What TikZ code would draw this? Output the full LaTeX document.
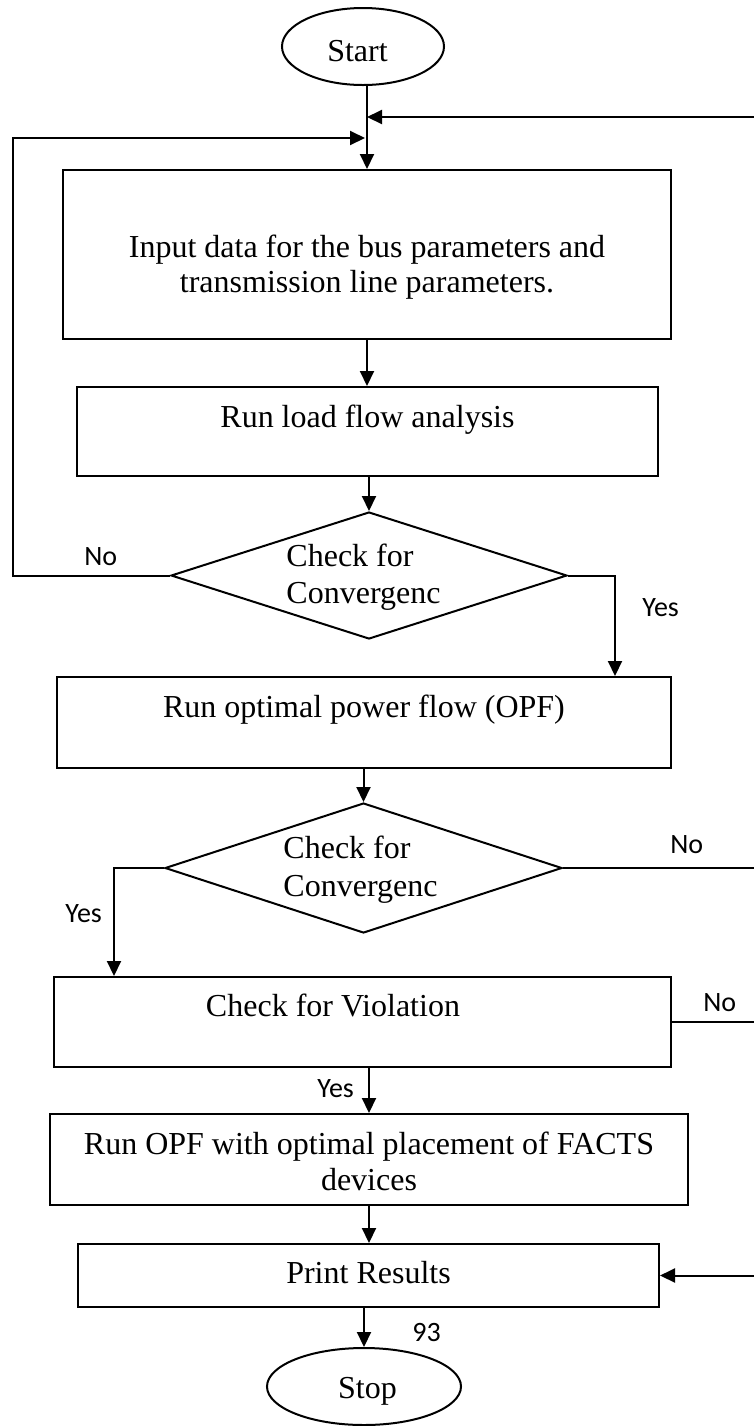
\documentclass[tikz,border=0pt]{standalone}
\usepackage{fontspec}
\setmainfont{Liberation Serif}
\newfontfamily\labfont{Carlito}
\usetikzlibrary{shapes.geometric,arrows.meta}
\newcommand\bx[3]{\raisebox{#1}[0pt][0pt]{\makebox[0pt]{\hspace{#2}#3}}}
\newcommand\twoc[3]{\fontsize{16}{#1}\selectfont\begin{tabular}[t]{@{}c@{}}#2\\#3\end{tabular}}
\newcommand\twol[3]{\fontsize{16}{#1}\selectfont\begin{tabular}[t]{@{}l@{}}#2\\#3\end{tabular}}
\begin{document}
\begin{tikzpicture}[x=0.5pt,y=-0.5pt,
  every node/.style={font=\fontsize{16}{18}\selectfont, inner sep=0pt},
  stepbox/.style={draw, line width=1pt, rectangle},
  term/.style={draw, line width=1pt, ellipse},
  decide/.style={draw, line width=1pt, diamond},
  lab/.style={font=\labfont\fontsize{14}{16}\selectfont, anchor=base west},
  arr/.style={line width=1pt, -{Triangle[length=7.5pt,width=7pt]}},
  ln/.style={line width=1pt}]
\useasboundingbox (0,0) rectangle (754,1426);

\node[term, minimum width=81pt, minimum height=38.5pt] (start) at (363,46.5) {\bx{-7.25pt}{-5.5pt}{Start}};
\node[stepbox, minimum width=304pt, minimum height=84.5pt] (input) at (367,254.5)
  {\bx{-1.25pt}{0pt}{\twoc{17.5}{Input data for the bus parameters and}{transmission line parameters.}}};
\node[stepbox, minimum width=290.5pt, minimum height=44.5pt] (lf) at (367.5,431.5) {\bx{2.25pt}{0pt}{Run load flow analysis}};
\node[decide, minimum width=198pt, minimum height=63.5pt] (d1) at (369,575.5)
  {\bx{4.75pt}{-5.5pt}{\twol{18.5}{Check for}{Convergenc}}};
\node[stepbox, minimum width=307pt, minimum height=45.5pt] (opf) at (364,722.5) {\bx{2.75pt}{0pt}{Run optimal power flow (OPF)}};
\node[decide, minimum width=198.5pt, minimum height=65pt] (d2) at (363.5,868)
  {\bx{5pt}{-3pt}{\twol{19}{Check for}{Convergenc}}};
\node[stepbox, minimum width=308.5pt, minimum height=45pt] (viol) at (362.5,1022) {\bx{3pt}{-29.5pt}{Check for Violation}};
\node[stepbox, minimum width=319pt, minimum height=45.5pt] (facts) at (369,1159.5)
  {\bx{2.75pt}{0pt}{\twoc{18}{Run OPF with optimal placement of FACTS}{devices}}};
\node[stepbox, minimum width=290.5pt, minimum height=31.5pt] (print) at (368.5,1275.5) {\bx{-3.75pt}{0pt}{Print Results}};
\node[term, minimum width=97pt, minimum height=38.5pt] (stop) at (364,1386.5) {\bx{-5.75pt}{3.5pt}{Stop}};

% free ends and bends
\coordinate (rtop) at (754,117);
\coordinate (redge) at (754,0);
\coordinate (ltop) at (13,138);
\coordinate (lbot) at (13,575.5);
\coordinate (yes1) at (615,600);
\coordinate (yes2) at (114,900);

% main flow
\draw[arr] (start.south -| input.north) -- (input.north);
\draw[arr] (rtop) -- (rtop -| input.north);
\draw[arr, shorten >=1pt] (d1.west) -- (lbot) -- (ltop) -- (ltop -| input.north);
\draw[arr] (input.south) -- (input.south |- lf.north);
\draw[arr] (d1.north |- lf.south) -- (d1.north);
\draw[arr] (d1.east) -| (yes1 |- opf.north);
\draw[arr] (d2.north |- opf.south) -- (d2.north);
\draw[ln] (d2.east) -- (d2.east -| redge);
\draw[arr] (d2.west) -| (yes2 |- viol.north);
\draw[ln] (viol.east) -- (viol.east -| redge);
\draw[arr] (facts.north |- viol.south) -- (facts.north);
\draw[arr] (facts.south) -- (facts.south |- print.north);
\draw[arr] (print.east -| redge) -- (print.east);
\draw[arr] (stop.north |- print.south) -- (stop.north);

% labels
\node[lab] (no1) at (84,565) {No};
\node[lab] (yes1l) at (642,616) {Yes};
\node[lab] (no2) at (670,853) {No};
\node[lab] (yes2l) at (65,922) {Yes};
\node[lab] (no3) at (703,1011) {No};
\node[lab] (yes3l) at (317,1097) {Yes};
\node[lab] (pg) at (412,1341) {93};
\end{tikzpicture}
\end{document}
